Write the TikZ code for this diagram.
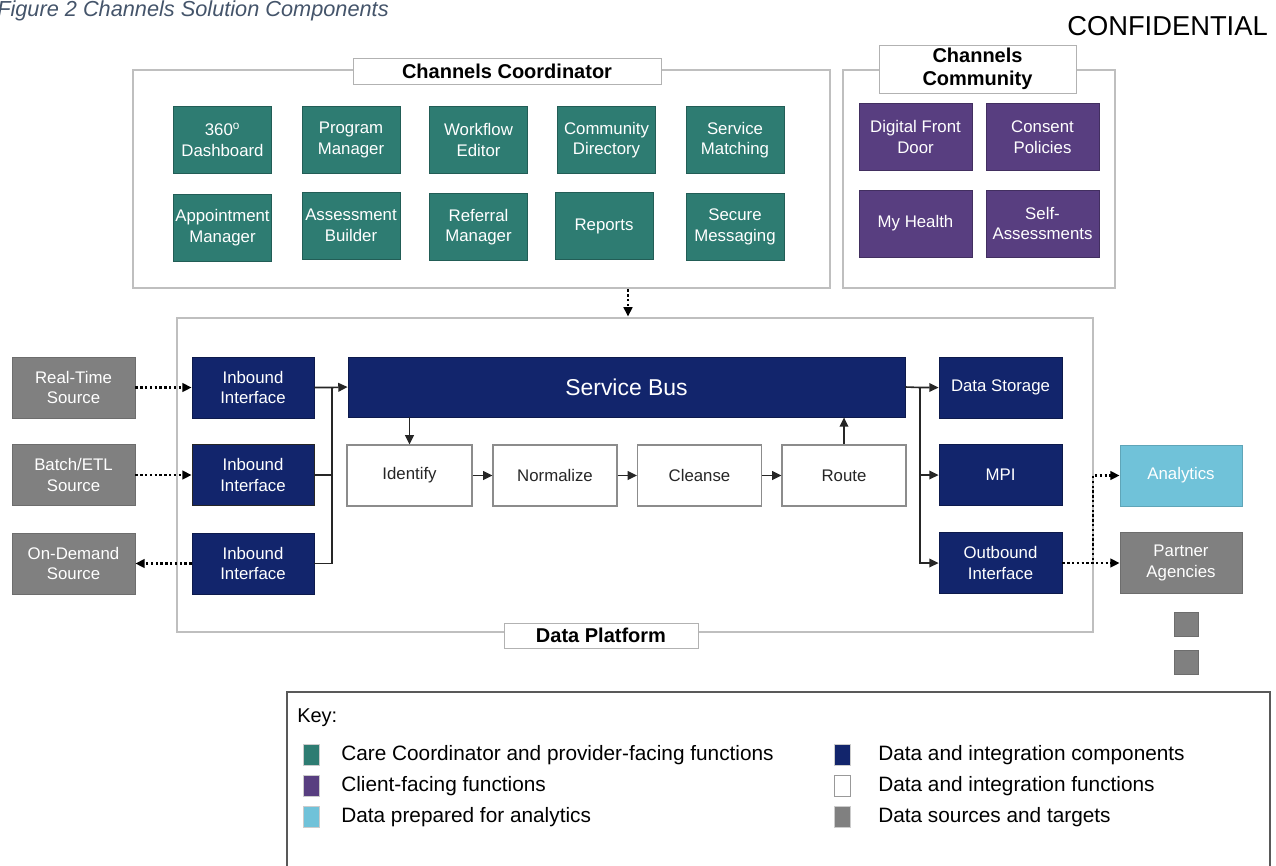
\documentclass[tikz,border=0pt]{standalone}
\usepackage{fontspec}
\setmainfont{Liberation Sans}
\usetikzlibrary{arrows.meta}

\definecolor{teal1}{RGB}{46,124,114}
\definecolor{purple1}{RGB}{88,62,128}
\definecolor{navy1}{RGB}{18,37,108}
\definecolor{sky1}{RGB}{112,194,217}
\definecolor{grey1}{RGB}{128,128,128}
\definecolor{slate1}{RGB}{68,84,106}

\tikzset{
  boxsize/.style 2 args={minimum width=#1*0.75pt, minimum height=#2*0.75pt},
  boxtext/.style={align=center, inner sep=0pt, text=white, font=\fontsize{12.6pt}{15.4pt}\selectfont},
  tealbox/.style={boxtext, boxsize={98}{67}, fill=teal1, draw=teal1!75!black, line width=0.6pt},
  purplebox/.style={boxtext, boxsize={113}{67}, fill=purple1, draw=purple1!75!black, line width=0.6pt},
  navybox/.style={boxtext, boxsize={122}{61}, fill=navy1, draw=navy1!70!black, line width=0.6pt},
  greybox/.style={boxtext, boxsize={123}{61}, fill=grey1, draw=grey1!85!black, line width=0.6pt},
  funcbox/.style={boxtext, boxsize={124}{61}, fill=white, draw=black!45, line width=0.8pt, text=black!85},
  frame/.style={draw=black!25, line width=2.2pt, fill=white, inner sep=0pt},
  tag/.style={draw=black!30, line width=0.6pt, fill=white, inner sep=0pt, align=center,
    font=\fontsize{15pt}{17.5pt}\selectfont\bfseries},
  link/.style={line width=1.2pt, black!85},
  arr/.style={link, -{Triangle[length=7pt,width=6.5pt]}},
  dotarr/.style={line width=1.8pt, dash pattern=on 1.8pt off 1.8pt, -{Triangle[length=7pt,width=6.5pt]}},
  swatch/.style={boxsize={16}{21}, inner sep=0pt, draw=black!20, line width=0.4pt},
  keytext/.style={anchor=west, inner sep=0pt, font=\fontsize{15.6pt}{17pt}\selectfont}
}

\begin{document}
\begin{tikzpicture}[x=0.75pt,y=-0.75pt]
		%%%%% START %%%%%
		\useasboundingbox (0,0) rectangle (1276,865);
		
		\node[anchor=base west, inner sep=0pt, text=slate1, font=\fontsize{16.3pt}{18pt}\selectfont\itshape] (title) at (-3,16) {Figure 2 Channels Solution Components};
		\node[anchor=base east, inner sep=0pt, font=\fontsize{20.5pt}{23pt}\selectfont] (conf) at (1268,35) {CONFIDENTIAL};
		
		% channels coordinator
		\node[frame, boxsize={697}{218}] (coord) at (481.5,179) {};
		\node[tag, boxsize={308}{26}] (coordtag) at (507,71) {Channels Coordinator};
		\node[tealbox] (dash) at (222.5,140) {360\textsuperscript{o}\\Dashboard};
		\node[tealbox] (prog) at (351,140) {Program\\Manager};
		\node[tealbox] (flow) at (478.5,140) {Workflow\\Editor};
		\node[tealbox] (dir) at (606.5,140) {Community\\Directory};
		\node[tealbox] (match) at (735,140) {Service\\Matching};
		\node[tealbox] (appt) at (222.5,227.5) {Appointment\\Manager};
		\node[tealbox] (assess) at (351,225.5) {Assessment\\Builder};
		\node[tealbox] (refer) at (478.5,227) {Referral\\Manager};
		\node[tealbox] (reports) at (604,226) {Reports};
		\node[tealbox] (msg) at (735,227) {Secure\\Messaging};
		
		% channels community
		\node[frame, boxsize={272}{218}] (comm) at (979,179) {};
		\node[tag, boxsize={197}{48}] (commtag) at (977.5,69) {Channels\\Community};
		\node[purplebox] (door) at (915.5,137) {Digital Front\\Door};
		\node[purplebox] (consent) at (1042.5,137) {Consent\\Policies};
		\node[purplebox] (health) at (915.5,223.5) {My Health};
		\node[purplebox] (selfa) at (1042.5,223.5) {Self-\\Assessments};
		
		% data platform
		\node[frame, boxsize={916}{314}] (plat) at (635,475) {};
		\node[tag, boxsize={194}{25}] (plattag) at (601,635.5) {Data Platform};
		
		\coordinate (cp) at (628,300);
		\draw[dotarr] (cp |- coord.south) -- (cp |- plat.north);
		
		\node[greybox] (src1) at (73.5,387.5) {Real-Time\\Source};
		\node[greybox] (src2) at (73.5,475) {Batch/ETL\\Source};
		\node[greybox] (src3) at (73.5,563.5) {On-Demand\\Source};
		
		\node[navybox] (in1) at (253,387.5) {Inbound\\Interface};
		\node[navybox, draw=black!85] (in2) at (253,475) {Inbound\\Interface};
		\node[navybox] (in3) at (253,563.5) {Inbound\\Interface};
		
		\node[navybox, boxsize={557}{60}, font=\fontsize{17.2pt}{20pt}\selectfont] (bus) at (626.5,387) {Service Bus};
		
		\node[funcbox, boxsize={125}{61}] (ident) at (409.5,475.5) {Identify};
		\node[funcbox] (norm) at (555,475.5) {Normalize};
		\node[funcbox] (clean) at (699.5,475.5) {Cleanse};
		\node[funcbox] (route) at (844,475.5) {Route};
		
		\node[navybox, boxsize={123}{61}] (store) at (1000.5,387.5) {Data Storage};
		\node[navybox, boxsize={123}{61}] (mpi) at (1000.5,475) {MPI};
		\node[navybox, boxsize={123}{61}] (outb) at (1000.5,563) {Outbound\\Interface};
		
		\node[greybox, boxsize={122}{61}, fill=sky1, draw=sky1!85!black] (anal) at (1181,475.5) {Analytics};
		\node[greybox, boxsize={122}{61}] (partner) at (1181,563) {Partner\\Agencies};
		\draw[fill=grey1, draw=grey1!85!black, line width=0.5pt] (1174,612) rectangle (1198,636);
		\draw[fill=grey1, draw=grey1!85!black, line width=0.5pt] (1174,650) rectangle (1198,674);
		
		% inbound side
		\draw[dotarr] (src1.east) -- (in1.west);
		\draw[dotarr] (src2.east) -- (in2.west);
		\draw[dotarr] (in3.west) -- (src3.east);
		\coordinate (jl) at (332,387.5);
		\draw[link] (in2.east) -| (jl);
		\draw[link] (in3.east) -| (jl);
		\draw[arr] (in1.east) -- (jl) -- (bus.west);
		
		% functions
		\draw[arr] (bus.south -| ident.north) -- (ident.north);
		\draw[arr] (ident.east) -- (norm.west);
		\draw[arr] (norm.east) -- (clean.west);
		\draw[arr] (clean.east) -- (route.west);
		\draw[arr] (route.north) -- (route.north |- bus.south);
		
		% outbound side
		\coordinate (jr) at (920,387.5);
		\draw[arr] (bus.east) -- (jr) -- (store.west);
		\draw[arr] (jr) |- (mpi.west);
		\draw[arr] (jr) |- (outb.west);
		\coordinate (jo) at (1093,563);
		\draw[dotarr] (outb.east) -- (partner.west);
		\draw[dotarr] (outb.east) -- (jo) |- (anal.west);
		
		% key
		\draw[line width=0.8pt, black!65] (287,868) -- (287,692) -- (1270,692) -- (1270,868);
		\node[anchor=base west, inner sep=0pt, font=\fontsize{15pt}{17pt}\selectfont] (keyhead) at (297,722) {Key:};
		\node[swatch, fill=teal1] (k1) at (311,755) {};
		\node[swatch, fill=purple1] (k2) at (311,786) {};
		\node[swatch, fill=sky1] (k3) at (311,817) {};
		\node[swatch, fill=navy1] (k4) at (842,755) {};
		\node[swatch, fill=white, draw=black!40] (k5) at (842,786) {};
		\node[swatch, fill=grey1] (k6) at (842,817) {};
		\node[keytext] (t1) at (341,755) {Care Coordinator and provider-facing functions};
		\node[keytext] (t2) at (341,786) {Client-facing functions};
		\node[keytext] (t3) at (341,817) {Data prepared for analytics};
		\node[keytext] (t4) at (878,755) {Data and integration components};
		\node[keytext] (t5) at (878,786) {Data and integration functions};
		\node[keytext] (t6) at (878,817) {Data sources and targets};
		
		%%%%% END %%%%%
	\end{tikzpicture}
\end{document}
